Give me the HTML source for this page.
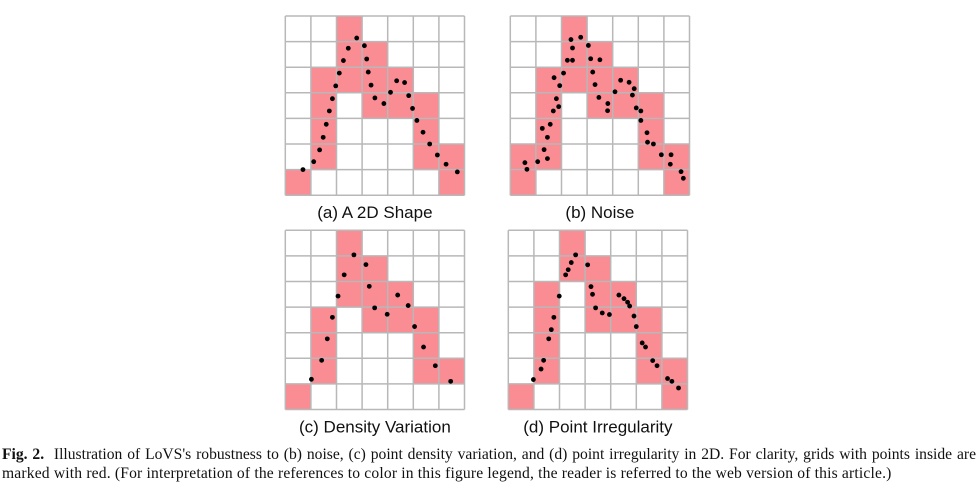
<!DOCTYPE html>
<html><head><meta charset="utf-8">
<style>
html,body{margin:0;padding:0;background:#fff;}
body{width:978px;height:487px;position:relative;overflow:hidden;}
svg{position:absolute;left:0;top:0;}
.cap{position:absolute;left:2px;width:974px;font-family:"Liberation Serif",serif;font-size:15.6px;line-height:19px;color:#111;white-space:nowrap;}
.l1{top:445px;text-align:justify;text-align-last:justify;}
.l2{top:464px;letter-spacing:0.17px;}
</style></head>
<body>
<svg id="fig" width="978" height="440" viewBox="0 0 978 440"></svg>
<div class="cap l1"><b>Fig. 2.</b>&nbsp; Illustration of LoVS's robustness to (b) noise, (c) point density variation, and (d) point irregularity in 2D. For clarity, grids with points inside are</div>
<div class="cap l2">marked with red. (For interpretation of the references to color in this figure legend, the reader is referred to the web version of this article.)</div>
<script>
// Panel data: red cells [col,row], points [x,y] in grid units (0..7)
const titles=["(a) A 2D Shape","(b) Noise","(c) Density Variation","(d) Point Irregularity"];
const cellsA=[[2,0],[2,1],[3,1],[1,2],[2,2],[3,2],[4,2],[1,3],[3,3],[4,3],[5,3],[1,4],[5,4],[1,5],[5,5],[6,5],[0,6],[6,6]];
const cellsB=[[2,0],[2,1],[3,1],[1,2],[2,2],[3,2],[4,2],[1,3],[3,3],[4,3],[5,3],[1,4],[5,4],[0,5],[1,5],[5,5],[6,5],[0,6],[6,6]];
const cellsC=[[2,0],[2,1],[3,1],[2,2],[3,2],[4,2],[1,3],[3,3],[4,3],[5,3],[1,4],[5,4],[1,5],[5,5],[6,5],[0,6]];
const cellsD=[[2,0],[2,1],[3,1],[1,2],[3,2],[4,2],[1,3],[3,3],[4,3],[5,3],[1,4],[5,4],[1,5],[5,5],[6,5],[0,6],[6,6]];
const ptsA=[[2.79,0.86],[2.46,1.26],[3.09,1.16],[2.27,1.74],[3.18,1.68],[2.11,2.23],[3.24,2.19],[1.97,2.73],[3.35,2.70],[4.35,2.53],[4.66,2.60],[4.11,2.98],[4.82,3.11],[1.84,3.23],[3.50,3.20],[3.85,3.42],[1.72,3.71],[4.97,3.61],[1.60,4.23],[5.14,4.08],[1.48,4.74],[5.38,4.54],[1.34,5.23],[5.64,5.00],[1.11,5.69],[5.94,5.43],[0.69,6.00],[6.28,5.79],[6.72,6.09]];
const ptsB=[[2.37,0.92],[2.75,0.83],[2.43,1.25],[3.05,1.15],[2.23,1.73],[2.43,1.73],[3.14,1.67],[3.50,1.71],[2.08,2.23],[3.22,2.19],[1.71,2.41],[1.93,2.72],[3.31,2.68],[4.31,2.51],[4.64,2.59],[4.84,2.84],[4.09,2.96],[4.77,3.09],[1.80,3.23],[3.46,3.18],[3.81,3.42],[1.89,3.54],[1.68,3.71],[3.80,3.70],[4.92,3.59],[5.10,3.71],[5.10,4.08],[1.56,4.23],[1.25,4.39],[1.45,4.74],[5.34,4.56],[5.36,4.93],[5.59,5.00],[1.32,5.22],[1.45,5.57],[1.07,5.69],[5.90,5.42],[6.28,5.42],[6.25,5.79],[0.57,5.73],[0.65,5.99],[6.67,6.08],[6.76,6.34]];
const ptsC=[[2.68,0.96],[3.15,1.34],[2.30,1.74],[3.28,2.19],[2.06,2.57],[4.39,2.53],[4.80,2.94],[3.49,3.03],[3.98,3.28],[1.84,3.40],[5.05,3.76],[1.64,4.24],[5.40,4.56],[1.42,5.08],[5.86,5.29],[1.02,5.82],[6.46,5.90]];
const ptsD=[[2.63,0.96],[2.46,1.26],[2.34,1.54],[2.24,1.74],[3.10,1.35],[3.23,2.20],[3.29,2.50],[1.99,2.57],[4.32,2.53],[4.52,2.67],[4.66,2.81],[4.74,2.96],[3.41,3.03],[3.67,3.23],[3.95,3.29],[1.78,3.40],[4.91,3.35],[5.00,3.76],[1.68,3.88],[1.58,4.24],[5.23,4.40],[5.36,4.56],[5.64,5.09],[5.81,5.29],[1.38,5.08],[1.28,5.42],[0.98,5.83],[6.22,5.79],[6.39,5.90],[6.65,6.16]];

const NS="http://www.w3.org/2000/svg";
const svg=document.getElementById('fig');
const panels=[
 {x0:285.3,y0:16,cells:cellsA,pts:ptsA,t:titles[0],id:'a'},
 {x0:510.3,y0:16,cells:cellsB,pts:ptsB,t:titles[1],id:'b'},
 {x0:285.3,y0:230.3,cells:cellsC,pts:ptsC,t:titles[2],id:'c'},
 {x0:508.3,y0:230.3,cells:cellsD,pts:ptsD,t:titles[3],id:'d'}];
const CS=25.6, N=7;
function mk(tag,attrs){const e=document.createElementNS(NS,tag);for(const k in attrs)e.setAttribute(k,attrs[k]);return e;}
panels.forEach(p=>{
  const g=mk('g',{});
  
  
  svg.appendChild(g);
  const sx=v=>p.x0+v*CS, sy=v=>p.y0+v*CS;
  p.cells.forEach(c=>{
    const r=mk('rect',{x:sx(c[0]),y:sy(c[1]),width:CS,height:CS,fill:'#fa8c93'});
    
    
    g.appendChild(r);
  });
  for(let i=0;i<=N;i++){
    const v=mk('line',{x1:sx(i),y1:sy(0),x2:sx(i),y2:sy(N),stroke:'#b8b8b8','stroke-width':1.5});
    
    
    g.appendChild(v);
    const h=mk('line',{x1:sx(0),y1:sy(i),x2:sx(N),y2:sy(i),stroke:'#b8b8b8','stroke-width':1.5});
    
    
    g.appendChild(h);
  }
  p.pts.forEach(q=>{
    const c=mk('circle',{cx:sx(q[0]),cy:sy(q[1]),r:2.4,fill:'#000'});
    
    
    g.appendChild(c);
  });
  const t=mk('text',{x:sx(3.5),y:sy(N)+23,'text-anchor':'middle','font-family':'Liberation Sans, sans-serif','font-size':'17',fill:'#111'});
  t.textContent=p.t;
  
  
  g.appendChild(t);
});
</script>
</body></html>
